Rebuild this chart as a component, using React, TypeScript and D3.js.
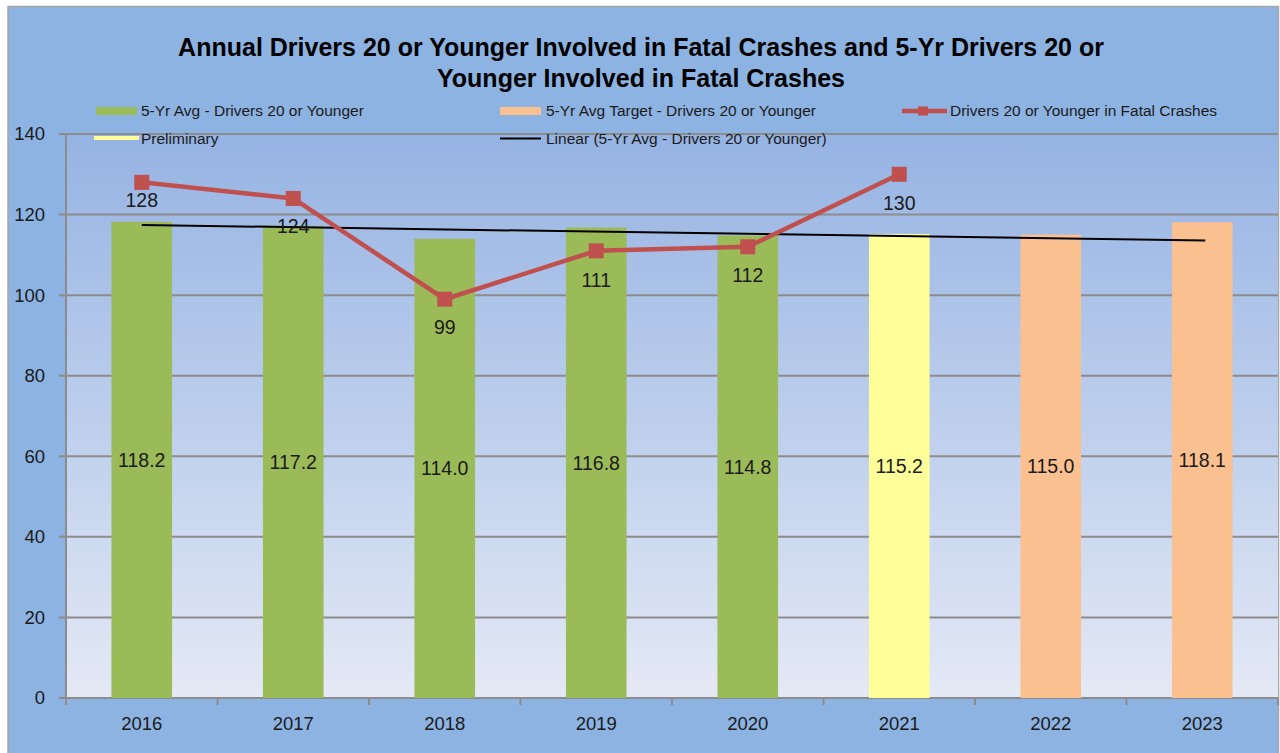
import React from "react";
import * as d3 from "d3";

const years = ["2016", "2017", "2018", "2019", "2020", "2021", "2022", "2023"];
const avgValues = [118.2, 117.2, 114.0, 116.8, 114.8, 115.2, 115.0, 118.1];
const barKinds = ["avg", "avg", "avg", "avg", "avg", "prelim", "target", "target"];
const crashValues: (number | null)[] = [128, 124, 99, 111, 112, 130, null, null];
const trendCount = 6; // trend fitted on 5-Yr Avg series incl. preliminary
const yTicks = [0, 20, 40, 60, 80, 100, 120, 140];
const titleLines = [
  "Annual Drivers 20 or Younger Involved in Fatal Crashes and 5-Yr Drivers 20 or",
  "Younger Involved in Fatal Crashes",
];

const W = 1280;
const H = 753;
const plot = { left: 66, right: 1278, top: 134, bottom: 698 };
const colors: Record<string, string> = {
  avg: "#9BBB59",
  prelim: "#FFFF99",
  target: "#FAC090",
};
const red = "#C0504D";
const font = "'Liberation Sans', Arial, sans-serif";
const labelDy = [18, 28, 28, 29, 28, 29, 28, 28];

export default function App() {
  const x = d3.scaleBand<string>().domain(years).range([plot.left, plot.right]).paddingInner(0.6).paddingOuter(0.3);
  const xc = (d: string) => (x(d) as number) + x.bandwidth() / 2;
  const y = d3.scaleLinear().domain([0, 140]).range([plot.bottom, plot.top]);
  const band = (plot.right - plot.left) / years.length;

  // linear trendline
  const tx = d3.range(1, trendCount + 1);
  const ty = avgValues.slice(0, trendCount);
  const mx = d3.mean(tx) as number;
  const my = d3.mean(ty) as number;
  const sxy = d3.sum(tx.map((v, i) => (v - mx) * (ty[i] - my)));
  const sxx = d3.sum(tx.map((v) => (v - mx) * (v - mx)));
  const slope = sxy / sxx;
  const icpt = my - slope * mx;
  const trendPts: [number, number][] = [
    [xc(years[0]), y(icpt + slope * 1)],
    [xc(years[years.length - 1]) + 3, y(icpt + slope * years.length)],
  ];

  const lineGen = d3
    .line<number | null>()
    .defined((d) => d !== null)
    .x((_, i) => xc(years[i]))
    .y((d) => y(d as number));

  return (
    <svg width={W} height={H} style={{ position: "absolute", left: 0, top: 0 }} fontFamily={font}>
      <defs>
        <linearGradient id="plotbg" x1="0" y1="0" x2="0" y2="1">
          <stop offset="0" stopColor="#95B3E3" />
          <stop offset="1" stopColor="#E4E9F5" />
        </linearGradient>
      </defs>
      <rect x={0} y={0} width={W} height={H} fill="#ffffff" />
      <rect x={8} y={6.5} width={1270.5} height={H} fill="#8DB3E2" stroke="#A6A6A6" strokeWidth={1.5} />
      <rect x={plot.left} y={plot.top} width={plot.right - plot.left} height={plot.bottom - plot.top} fill="url(#plotbg)" />
      {/* gridlines */}
      {yTicks.map((t) => (
        <line key={t} x1={plot.left - 7} x2={plot.right} y1={y(t)} y2={y(t)} stroke="#8C8C8C" strokeWidth={2} />
      ))}
      <line x1={plot.left} x2={plot.left} y1={plot.top} y2={plot.bottom} stroke="#8C8C8C" strokeWidth={2} />
      {years.map((_, i) => (
        <line key={i} x1={plot.left + band * (i + 1)} x2={plot.left + band * (i + 1)} y1={plot.bottom} y2={plot.bottom + 7} stroke="#8C8C8C" strokeWidth={2} />
      ))}
      <line x1={plot.left} x2={plot.left} y1={plot.bottom} y2={plot.bottom + 7} stroke="#8C8C8C" strokeWidth={2} />
      {/* y labels */}
      {yTicks.map((t) => (
        <text key={t} x={45} y={y(t)} dy="0.35em" textAnchor="end" fontSize={18.5} fill="#1a1a1a">
          {t}
        </text>
      ))}
      {/* x labels */}
      {years.map((yr) => (
        <text key={yr} x={xc(yr)} y={730} textAnchor="middle" fontSize={18.5} fill="#1a1a1a">
          {yr}
        </text>
      ))}
      {/* bars */}
      {years.map((yr, i) => (
        <rect key={yr} x={x(yr)} y={y(avgValues[i])} width={x.bandwidth()} height={y(0) - y(avgValues[i])} fill={colors[barKinds[i]]} />
      ))}
      {/* bar labels */}
      {years.map((yr, i) => (
        <text key={yr} x={xc(yr)} y={(y(avgValues[i]) + y(0)) / 2} dy="0.35em" textAnchor="middle" fontSize={19.5} fill="#1a1a1a">
          {avgValues[i].toFixed(1)}
        </text>
      ))}
      {/* trendline */}
      <line x1={trendPts[0][0]} y1={trendPts[0][1]} x2={trendPts[1][0]} y2={trendPts[1][1]} stroke="#000" strokeWidth={2} />
      {/* crash line */}
      <path d={lineGen(crashValues) || ""} fill="none" stroke={red} strokeWidth={4.5} />
      {crashValues.map((v, i) =>
        v === null ? null : (
          <g key={i}>
            <rect x={xc(years[i]) - 7.5} y={y(v) - 7.5} width={15} height={15} fill={red} />
            <text x={xc(years[i])} y={y(v) + labelDy[i]} dy="0.35em" textAnchor="middle" fontSize={19.5} fill="#1a1a1a">
              {v}
            </text>
          </g>
        )
      )}
      {/* title */}
      {titleLines.map((t, i) => (
        <text key={i} x={641} y={55.5 + i * 31} textAnchor="middle" fontSize={25} fontWeight="bold" fill="#000">
          {t}
        </text>
      ))}
      {/* legend */}
      <g fontSize={15.5} fill="#1a1a1a">
        <rect x={96} y={107} width={41} height={8} fill={colors.avg} />
        <text x={141} y={116}>5-Yr Avg - Drivers 20 or Younger</text>
        <rect x={500} y={107} width={41} height={8} fill={colors.target} />
        <text x={546} y={116}>5-Yr Avg Target - Drivers 20 or Younger</text>
        <line x1={902} x2={947} y1={111} y2={111} stroke={red} strokeWidth={4.5} />
        <rect x={918} y={106.5} width={10} height={9} fill={red} />
        <text x={950} y={116}>Drivers 20 or Younger in Fatal Crashes</text>
        <line x1={94} x2={139} y1={138} y2={138} stroke={colors.prelim} strokeWidth={4} />
        <text x={141} y={143.5}>Preliminary</text>
        <line x1={500} x2={541} y1={138.5} y2={138.5} stroke="#000" strokeWidth={2} />
        <text x={546} y={143.5}>Linear (5-Yr Avg - Drivers 20 or Younger)</text>
      </g>
    </svg>
  );
}
